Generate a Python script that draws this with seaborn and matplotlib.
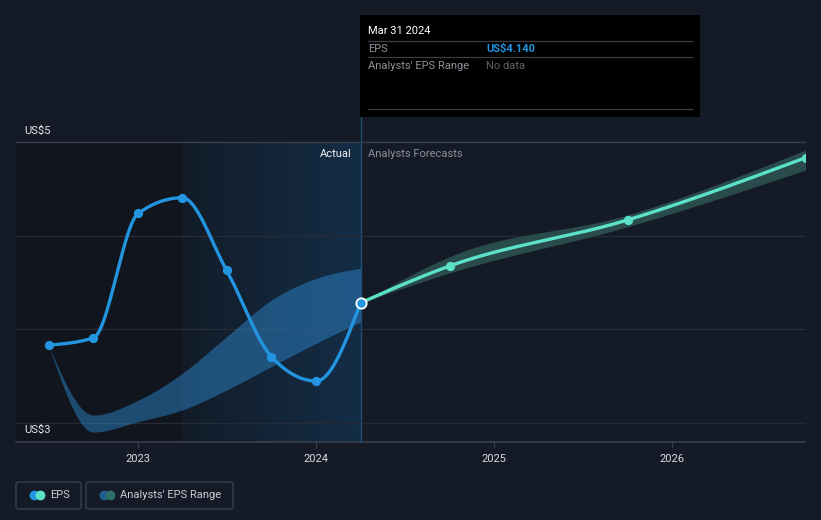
import numpy as np
import pandas as pd
import matplotlib
matplotlib.use("Agg")
import matplotlib.pyplot as plt
import seaborn as sns
from matplotlib.patches import Rectangle, FancyBboxPatch, Circle
from matplotlib.lines import Line2D
from matplotlib.colors import to_rgb

# ---------------- data ----------------
actual_dates = ["2022-06-30", "2022-09-30", "2022-12-31", "2023-03-31",
                "2023-06-30", "2023-09-30", "2023-12-31", "2024-03-31"]
actual_eps = [3.914, 3.953, 4.619, 4.702, 4.314, 3.852, 3.722, 4.140]
range_low = [3.914, 3.449, 3.505, 3.567, 3.674, 3.800, 3.924, 4.039]
range_high = [3.914, 3.540, 3.620, 3.763, 3.959, 4.155, 4.271, 4.325]

fc_dates = ["2024-03-31", "2024-09-30", "2025-09-30", "2026-09-30"]
fc_eps = [4.140, 4.337, 4.583, 4.916]
fc_low = [4.140, 4.300, 4.547, 4.850]
fc_high = [4.140, 4.387, 4.610, 4.957]

year_ticks = [2023, 2024, 2025, 2026]
y_labels = ["US$5", "US$3"]
grid_vals = [5.0, 4.5, 4.0, 3.5]

# ---------------- helpers ----------------
def frac_year(ds):
    d = pd.to_datetime(pd.Series(ds))
    days = np.where(d.dt.is_leap_year, 366, 365)
    return (d.dt.year + (d.dt.dayofyear) / days).to_numpy(dtype=float)

def monotone(x, y, n=60):
    x = np.asarray(x, float); y = np.asarray(y, float)
    h = np.diff(x); s = np.diff(y) / h
    m = np.zeros_like(y)
    for k in range(1, len(x) - 1):
        if s[k - 1] * s[k] <= 0:
            m[k] = 0
        else:
            p = (s[k - 1] * h[k] + s[k] * h[k - 1]) / (h[k - 1] + h[k])
            m[k] = (np.sign(s[k - 1]) + np.sign(s[k])) * min(abs(s[k - 1]), abs(s[k]), 0.5 * abs(p))
    m[0] = (3 * s[0] - m[1]) / 2 if len(x) > 2 else s[0]
    m[-1] = (3 * s[-1] - m[-2]) / 2 if len(x) > 2 else s[-1]
    xs, ys = [], []
    for k in range(len(x) - 1):
        t = np.linspace(0, 1, n, endpoint=(k == len(x) - 2))
        h00 = 2 * t**3 - 3 * t**2 + 1; h10 = t**3 - 2 * t**2 + t
        h01 = -2 * t**3 + 3 * t**2; h11 = t**3 - t**2
        xs.append(x[k] + t * h[k])
        ys.append(h00 * y[k] + h10 * h[k] * m[k] + h01 * y[k + 1] + h11 * h[k] * m[k + 1])
    return np.concatenate(xs), np.concatenate(ys)

W, H = 821, 520
def fx(px): return px / W
def fy(py): return 1 - py / H

BG = "#151b26"
BLUE = "#2394df"
TEAL = "#5ce1c9"

ax_x = frac_year(actual_dates)
fc_x = frac_year(fc_dates)

XMIN, XMAX = 2022.313, 2026.745
YMIN, YMAX = 3.396, 5.0

plt.rcParams['font.family'] = ['Roboto', 'DejaVu Sans']
fig = plt.figure(figsize=(8.21, 5.2), dpi=100, facecolor=BG)
ax = fig.add_axes([fx(16), fy(442), fx(805) - fx(16), (442 - 142) / H])
ax.set_facecolor(BG)
ax.set_xlim(XMIN, XMAX)
ax.set_ylim(YMIN, YMAX)

# shaded past region
split = ax_x[3]
now = ax_x[-1]
ax.axvspan(XMIN, split, color="#11151d", zorder=0, lw=0)
c0 = np.array(to_rgb("#121c28")); c1 = np.array(to_rgb("#142d47"))
grad = np.linspace(0, 1, 256)[None, :, None]
img = c0 + (c1 - c0) * grad
ax.imshow(img, extent=[split, now, YMIN, YMAX], aspect="auto", zorder=0.5, interpolation="bilinear")

# grid lines
for g in grid_vals:
    col = "#3a404b" if g == 5.0 else "#262c37"
    ax.axhline(g, color=col, lw=1, zorder=1, clip_on=False)
ax.axhline(YMIN, color="#3a404b", lw=1.2, zorder=1, clip_on=False)

# vertical "now" line
ax.axvline(now, ymin=0, ymax=1 + 25 / 300, color="#1f4d72", lw=1, zorder=2, clip_on=False)

# analysts range (past)
bx, bl = monotone(ax_x, range_low)
_, bh = monotone(ax_x, range_high)
ax.fill_between(bx, bl, bh, color="#2f8fd8", alpha=0.45, lw=0, zorder=3)

# forecast band
fx_, fl = monotone(fc_x, fc_low)
_, fh = monotone(fc_x, fc_high)
ax.fill_between(fx_, fl, fh, color="#2d5453", alpha=0.85, lw=0, zorder=3)

# EPS lines
lx, ly = monotone(ax_x, actual_eps)
sns.lineplot(x=lx, y=ly, ax=ax, color=BLUE, lw=2.4, zorder=5, sort=False, estimator=None)
sns.scatterplot(x=ax_x[:-1], y=actual_eps[:-1], ax=ax, color=BLUE, s=45, lw=0, zorder=6)

gx, gy = monotone(fc_x, fc_eps)
sns.lineplot(x=gx, y=gy, ax=ax, color=TEAL, lw=2.4, zorder=5, sort=False, estimator=None)
sns.scatterplot(x=fc_x[1:], y=fc_eps[1:], ax=ax, color=TEAL, s=45, lw=0, zorder=6)
ax.scatter([ax_x[-1]], [actual_eps[-1]], s=55, color=BLUE, edgecolor="white", lw=1.3, zorder=7)

# axes styling
for sp in ax.spines.values():
    sp.set_visible(False)
ax.set_yticks([])
ax.set_xticks(year_ticks)
ax.set_xticklabels([str(y) for y in year_ticks], color="#d8dbe0", fontsize=8)
ax.tick_params(axis="x", length=4, color="#3a404b", pad=5)
ax.grid(False)

# y labels
fig.text(fx(24), fy(131), y_labels[0], color="#e6e8eb", fontsize=8, va="center", ha="left")
fig.text(fx(24), fy(430), y_labels[1], color="#e6e8eb", fontsize=8, va="center", ha="left")

# section labels
fig.text(fx(352), fy(154), "Actual", color="#f0f2f5", fontsize=8, va="center", ha="right")
fig.text(fx(368), fy(154), "Analysts Forecasts", color="#8a8f98", fontsize=8, va="center", ha="left")

# tooltip
fig.add_artist(Rectangle((fx(360), fy(117)), fx(700) - fx(360), (117 - 15) / H,
                         transform=fig.transFigure, facecolor="black", edgecolor="none", zorder=10))
for ly_ in (41, 57, 109):
    fig.add_artist(Line2D([fx(368), fx(692)], [fy(ly_), fy(ly_)], transform=fig.transFigure,
                          color="#3b3f45", lw=0.9, zorder=11))
fig.text(fx(368), fy(31), "Mar 31 2024", color="white", fontsize=8, va="center", ha="left", zorder=12)
fig.text(fx(368), fy(49), "EPS", color="#8d9198", fontsize=8, va="center", ha="left", zorder=12)
fig.text(fx(486), fy(49), "US$4.140", color=BLUE, fontsize=8, fontweight="bold", va="center", ha="left", zorder=12)
fig.text(fx(368), fy(66), "Analysts' EPS Range", color="#8d9198", fontsize=8, va="center", ha="left", zorder=12)
fig.text(fx(486), fy(66), "No data", color="#5c6066", fontsize=8, va="center", ha="left", zorder=12)

# legend
def legend_box(x0, x1, c_a, c_b, label, tx):
    fig.add_artist(FancyBboxPatch((fx(x0), fy(509)), fx(x1) - fx(x0), (509 - 482) / H,
                                  boxstyle="round,pad=0,rounding_size=0.004",
                                  transform=fig.transFigure, facecolor="none",
                                  edgecolor="#3a404b", lw=1))
    ax_leg = fig.add_axes([0, 0, 1, 1], facecolor="none")
    ax_leg.set_xlim(0, W); ax_leg.set_ylim(H, 0); ax_leg.axis("off")
    ax_leg.scatter([x0 + 18], [494.5], s=50, color=c_a, lw=0, zorder=2)
    ax_leg.scatter([x0 + 24], [494.5], s=50, color=c_b, lw=0, zorder=3)
    fig.text(fx(tx), fy(494.5), label, color="#c9ccd1", fontsize=8, va="center", ha="left")

legend_box(16, 81, BLUE, TEAL, "EPS", 50)
legend_box(86, 233, "#1f5f8e", "#2f6e69", "Analysts' EPS Range", 120)

fig.savefig("out.png", dpi=100, facecolor=BG)
